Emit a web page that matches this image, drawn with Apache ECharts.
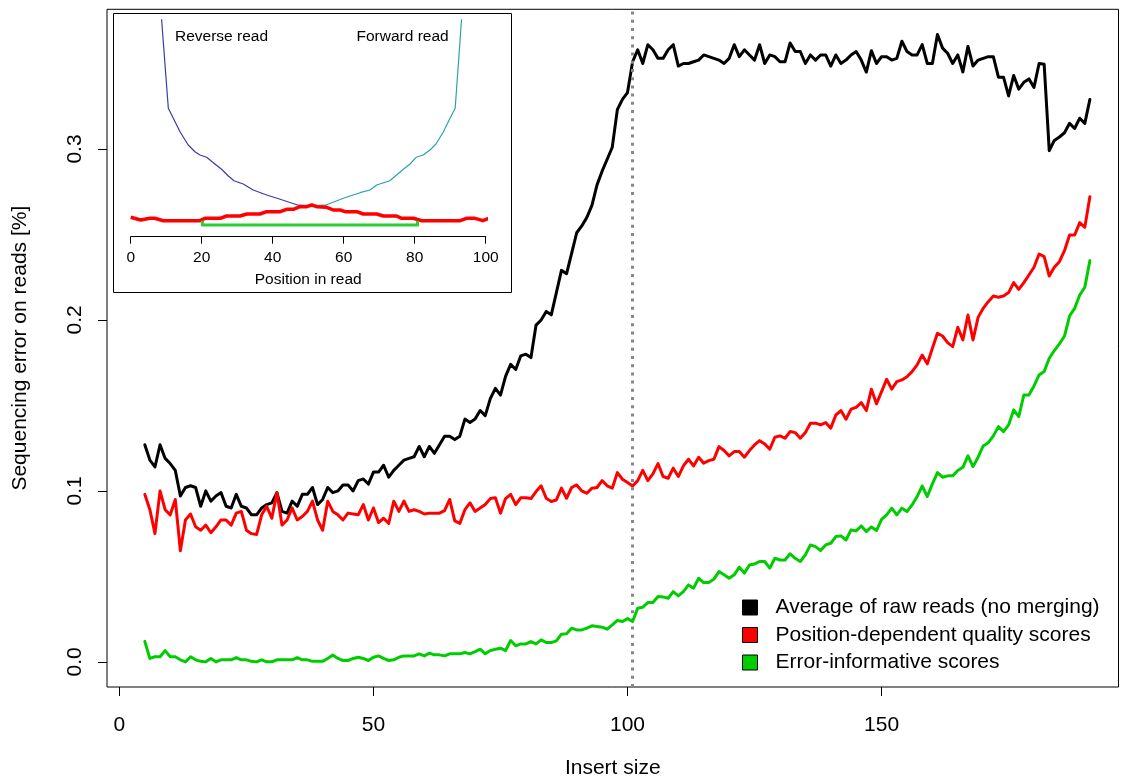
<!DOCTYPE html>
<html>
<head>
<meta charset="utf-8">
<script src="https://cdn.jsdelivr.net/npm/echarts@6/dist/echarts.min.js"></script>
<style>
  html, body { margin: 0; padding: 0; background: #fff; }
  #chart { width: 1121px; height: 778px; }
</style>
</head>
<body>
<div id="chart"></div>
<script>
// ---- Main panel: sequencing error by insert size ----
const insertSizes = [
  5,6,7,8,9,10,11,12,13,14,
  15,16,17,18,19,20,21,22,23,24,
  25,26,27,28,29,30,31,32,33,34,
  35,36,37,38,39,40,41,42,43,44,
  45,46,47,48,49,50,51,52,53,54,
  55,56,57,58,59,60,61,62,63,64,
  65,66,67,68,69,70,71,72,73,74,
  75,76,77,78,79,80,81,82,83,84,
  85,86,87,88,89,90,91,92,93,94,
  95,96,97,98,99,100,101,102,103,104,
  105,106,107,108,109,110,111,112,113,114,
  115,116,117,118,119,120,121,122,123,124,
  125,126,127,128,129,130,131,132,133,134,
  135,136,137,138,139,140,141,142,143,144,
  145,146,147,148,149,150,151,152,153,154,
  155,156,157,158,159,160,161,162,163,164,
  165,166,167,168,169,170,171,172,173,174,
  175,176,177,178,179,180,181,182,183,184,
  185,186,187,188,189,190,191
];

const rawReads = [
  0.127,0.118,0.114,0.127,0.119,0.116,0.112,0.097,0.102,0.103,
  0.102,0.091,0.100,0.094,0.097,0.099,0.091,0.090,0.098,0.091,
  0.090,0.086,0.086,0.090,0.092,0.093,0.099,0.088,0.087,0.094,
  0.091,0.098,0.098,0.102,0.092,0.095,0.102,0.099,0.100,0.1035,
  0.1035,0.100,0.106,0.107,0.104,0.111,0.111,0.115,0.108,0.112,
  0.115,0.118,0.119,0.120,0.126,0.120,0.126,0.122,0.127,0.132,
  0.132,0.130,0.132,0.142,0.140,0.142,0.147,0.144,0.154,0.160,
  0.156,0.167,0.174,0.171,0.179,0.180,0.178,0.197,0.200,0.205,
  0.203,0.216,0.229,0.227,0.239,0.251,0.255,0.260,0.267,0.279,
  0.287,0.294,0.301,0.323,0.329,0.333,0.351,0.358,0.350,0.361,
  0.358,0.353,0.353,0.358,0.361,0.3485,0.350,0.350,0.351,0.352,
  0.355,0.354,0.353,0.352,0.350,0.353,0.361,0.354,0.358,0.355,
  0.352,0.361,0.350,0.355,0.354,0.351,0.351,0.362,0.357,0.357,
  0.350,0.355,0.352,0.355,0.355,0.3485,0.355,0.350,0.352,0.355,
  0.357,0.352,0.345,0.3575,0.350,0.354,0.354,0.352,0.353,0.363,
  0.357,0.355,0.355,0.361,0.350,0.350,0.367,0.359,0.356,0.350,
  0.355,0.345,0.360,0.3485,0.352,0.353,0.354,0.354,0.342,0.342,
  0.331,0.343,0.335,0.339,0.341,0.336,0.350,0.3495,0.299,0.305,
  0.307,0.3095,0.315,0.312,0.318,0.315,0.329
];

const positionQuality = [
  0.098,0.089,0.075,0.100,0.089,0.086,0.095,0.065,0.083,0.0865,
  0.079,0.077,0.080,0.0755,0.079,0.083,0.083,0.080,0.087,0.088,
  0.077,0.075,0.0745,0.086,0.091,0.084,0.099,0.080,0.083,0.090,
  0.083,0.085,0.088,0.094,0.083,0.077,0.094,0.088,0.086,0.083,
  0.087,0.0865,0.086,0.092,0.083,0.090,0.0815,0.084,0.081,0.094,
  0.088,0.094,0.088,0.089,0.088,0.0865,0.087,0.087,0.087,0.0885,
  0.095,0.0825,0.081,0.089,0.093,0.088,0.090,0.092,0.0955,0.096,
  0.087,0.0955,0.098,0.092,0.096,0.096,0.0955,0.0996,0.103,0.0957,
  0.0938,0.0947,0.1016,0.0957,0.102,0.1035,0.100,0.0986,0.1016,0.102,
  0.106,0.103,0.1016,0.1107,0.1068,0.1049,0.1029,0.106,0.112,0.106,
  0.110,0.116,0.1084,0.1074,0.1133,0.1084,0.1146,0.1185,0.1146,0.1197,
  0.1162,0.1177,0.1185,0.1259,0.1236,0.1205,0.123,0.123,0.1197,0.1236,
  0.1269,0.1294,0.1275,0.1244,0.1314,0.1322,0.1308,0.1347,0.1341,0.1308,
  0.1341,0.1396,0.1396,0.1386,0.140,0.1367,0.1444,0.147,0.1419,0.1478,
  0.1489,0.1516,0.147,0.1595,0.1509,0.1581,0.1653,0.1595,0.1639,0.1649,
  0.1668,0.1698,0.1737,0.1795,0.1743,0.1834,0.1922,0.1906,0.1867,0.1844,
  0.1957,0.1883,0.2029,0.1883,0.2015,0.2068,0.2107,0.214,0.2133,0.214,
  0.216,0.2218,0.2179,0.2218,0.2263,0.2308,0.2386,0.237,0.2257,0.2308,
  0.2341,0.2405,0.2497,0.2497,0.2569,0.2542,0.2721
];

const errorInformative = [
  0.012,0.002,0.003,0.003,0.0066,0.003,0.003,0.0012,0.0,0.003,
  0.0012,0.0003,0.0,0.002,0.0,0.0012,0.0012,0.0012,0.0025,0.0012,
  0.0012,0.0003,0.0,0.0012,0.0,0.0,0.0012,0.0012,0.0012,0.0012,
  0.0025,0.0012,0.0012,0.0003,0.0003,0.0003,0.002,0.004,0.002,0.0008,
  0.0008,0.002,0.0027,0.002,0.0008,0.0027,0.0035,0.002,0.0008,0.0012,
  0.0027,0.0035,0.0035,0.0035,0.0047,0.0035,0.0051,0.0041,0.0041,0.0035,
  0.0047,0.0047,0.0047,0.0055,0.0047,0.006,0.0074,0.0047,0.0066,0.0074,
  0.008,0.0066,0.0125,0.0094,0.0105,0.0105,0.0119,0.0105,0.0129,0.0113,
  0.0113,0.0123,0.0162,0.0164,0.0197,0.0187,0.0187,0.0197,0.0211,0.0207,
  0.0203,0.0191,0.0216,0.0242,0.0236,0.0253,0.0236,0.0314,0.032,0.0347,
  0.0347,0.0382,0.038,0.0372,0.0411,0.0386,0.0411,0.045,0.0431,0.0489,
  0.0464,0.0464,0.0484,0.0528,0.0509,0.0489,0.0509,0.0554,0.0519,0.0567,
  0.0573,0.0587,0.0587,0.0548,0.0606,0.0596,0.0596,0.0632,0.0606,0.0587,
  0.0626,0.0684,0.0674,0.0651,0.0684,0.0694,0.0733,0.0737,0.0713,0.0772,
  0.0766,0.0795,0.0762,0.0789,0.0768,0.0834,0.086,0.0899,0.086,0.0899,
  0.0879,0.0918,0.0967,0.1029,0.0967,0.1041,0.1107,0.108,0.1088,0.1088,
  0.1119,0.1138,0.1205,0.1142,0.1197,0.1263,0.1282,0.1322,0.1376,0.1347,
  0.1386,0.1474,0.1435,0.1561,0.1561,0.1614,0.1678,0.1698,0.1776,0.1821,
  0.186,0.1906,0.2023,0.2068,0.2146,0.2191,0.2347
];

const seriesNames = [
  'Average of raw reads (no merging)',
  'Position-dependent quality scores',
  'Error-informative scores'
];
const seriesColors = ['#000000', '#ff0000', '#00cd00'];

const xTicks = [0, 50, 100, 150];
const yTicks = [0, 0.1, 0.2, 0.3];
const readLengthCutoff = 101;   // insert size where the two reads stop overlapping

// ---- Inset: error profile along the read (arbitrary units) ----
const reverseRead = [
  [8.7,217.4],[10.6,128.4],[12.0,118.4],[13.9,105],[16.2,91.7],[18.1,85],
  [19.5,81.7],[21.4,79.4],[23.7,72.7],[25.6,67.4],[27.5,60.7],[29.1,56],
  [31.7,52.7],[34.5,46.7],[38.3,41.7],[42.1,37.4],[47.2,31.5],[51.0,31.2]
];
const forwardRead = [
  [51.0,31.2],[54.8,31.5],[59.9,38.4],[64.6,44],[67.4,46.7],[69.3,51.7],
  [73.0,56],[74.9,61.7],[76.8,67.4],[78.7,72.7],[80.4,79.4],[82.4,81.7],
  [84.3,86.7],[86.0,92.7],[88.1,105],[89.7,116.7],[91.4,128.4],[93.2,217.4]
];
const insetQuality = [
  [0,19.4],[2.8,16.7],[5.4,18.4],[6.8,18.4],[9.2,16],[19.5,16],[20.9,18.4],
  [25.2,18.4],[27.0,20.7],[30.8,20.7],[32.7,22.7],[36.4,22.7],[38.3,25],
  [42.1,25],[43.9,27.4],[45.8,27.4],[47.7,30],[49.6,30],[51.0,31.7],[52.4,30],
  [55.2,29.4],[57.1,26.7],[59.0,26.7],[60.4,25],[63.7,25],[65.5,22.7],
  [69.3,22.7],[71.2,20.7],[74.9,20.7],[76.3,18.4],[79.6,18.4],[82.0,16],
  [92.8,16],[94.6,18.4],[97.0,18.4],[99.2,16],[102.0,20]
];
const overlapRegion = [[20.2,16],[20.2,11.7],[80.8,11.7],[80.8,16]];

const FONT = '"Liberation Sans", Arial, Helvetica, sans-serif';

function pairs(xs, ys) {
  return xs.map((x, i) => [x, ys[i]]);
}

const mainValues = [rawReads, positionQuality, errorInformative];

const mainSeries = mainValues.map((vals, i) => {
  const s = {
    name: seriesNames[i],
    type: 'line',
    xAxisIndex: 0,
    yAxisIndex: 0,
    data: pairs(insertSizes, vals),
    symbol: 'none',
    showSymbol: false,
    z: 3 + i,
    itemStyle: { color: seriesColors[i] },
    lineStyle: { color: seriesColors[i], width: 3, join: 'round', cap: 'round' }
  };
  if (i === 0) {
    s.markLine = {
      silent: true,
      symbol: ['none', 'none'],
      label: { show: false },
      lineStyle: { color: '#888888', width: 3, type: [3, 5.2], cap: 'butt' },
      data: [{ xAxis: readLengthCutoff }]
    };
  }
  return s;
});

const insetLine = (name, data, color, width) => ({
  name: name,
  type: 'line',
  xAxisIndex: 2,
  yAxisIndex: 2,
  data: data,
  symbol: 'none',
  showSymbol: false,
  clip: false,
  z: 6,
  lineStyle: { color: color, width: width, join: 'round' },
  itemStyle: { color: color }
});

const option = {
  animation: false,
  backgroundColor: '#ffffff',
  textStyle: { fontFamily: FONT },
  grid: [
    { left: 107, top: 9.3, width: 1011.5, height: 677.7, show: true,
      outerBoundsMode: 'none',
      borderColor: '#000', borderWidth: 1, backgroundColor: 'transparent' },
    { left: 113.5, top: 13.5, width: 398, height: 279, show: true,
      outerBoundsMode: 'none',
      borderColor: '#000', borderWidth: 1, backgroundColor: '#fff' },
    { left: 130.7, top: 19, width: 355, height: 217.7, outerBoundsMode: 'none' }
  ],
  xAxis: [
    {
      gridIndex: 0, type: 'value', min: -2.44, max: 196.63,
      name: 'Insert size', nameLocation: 'middle', nameGap: 71,
      nameTextStyle: { fontSize: 21, color: '#000', fontFamily: FONT },
      axisLine: { show: false, onZero: false },
      axisTick: { show: true, inside: false, length: 9, customValues: xTicks,
                  lineStyle: { color: '#000', width: 1 } },
      axisLabel: { customValues: xTicks, fontSize: 21, color: '#000', margin: 28,
                   fontFamily: FONT },
      splitLine: { show: false }
    },
    { gridIndex: 1, type: 'value', min: 0, max: 1, show: false },
    {
      gridIndex: 2, type: 'value', min: 0, max: 100, interval: 20,
      name: 'Position in read', nameLocation: 'middle', nameGap: 35,
      nameTextStyle: { fontSize: 15.5, color: '#000', fontFamily: FONT },
      axisLine: { show: true, onZero: false, lineStyle: { color: '#000', width: 1 } },
      axisTick: { show: true, length: 7, lineStyle: { color: '#000', width: 1 } },
      axisLabel: { fontSize: 15.5, color: '#000', margin: 13, fontFamily: FONT },
      splitLine: { show: false }
    }
  ],
  yAxis: [
    {
      gridIndex: 0, type: 'value', min: -0.0147, max: 0.3817,
      name: 'Sequencing error on reads [%]', nameLocation: 'middle', nameGap: 76,
      nameRotate: 90,
      nameTextStyle: { fontSize: 21, color: '#000', fontFamily: FONT },
      axisLine: { show: false, onZero: false },
      axisTick: { show: true, inside: false, length: 9, customValues: yTicks,
                  lineStyle: { color: '#000', width: 1 } },
      axisLabel: { customValues: yTicks, rotate: 90, fontSize: 21, color: '#000',
                   margin: 21, fontFamily: FONT,
                   formatter: v => Number(v).toFixed(1) },
      splitLine: { show: false }
    },
    { gridIndex: 1, type: 'value', min: 0, max: 1, show: false },
    { gridIndex: 2, type: 'value', min: 0, max: 217.7, show: false }
  ],
  legend: {
    orient: 'vertical',
    left: 737, top: 592,
    itemWidth: 15, itemHeight: 15, itemGap: 6.5,
    icon: 'rect',
    selectedMode: false,
    itemStyle: { borderColor: '#000', borderWidth: 1 },
    textStyle: { fontSize: 21, color: '#000', fontFamily: FONT, padding: [0, 0, 0, 13] },
    data: seriesNames
  },
  graphic: [
    { type: 'text', left: 175, top: 29,
      style: { text: 'Reverse read', fill: '#000', font: '15.5px ' + FONT }, z: 10 },
    { type: 'text', left: 356.5, top: 29,
      style: { text: 'Forward read', fill: '#000', font: '15.5px ' + FONT }, z: 10 }
  ],
  series: mainSeries.concat([
    insetLine('Reverse read', reverseRead, '#3b3ba8', 1.2),
    insetLine('Forward read', forwardRead, '#2aa3a3', 1.2),
    insetLine('Inset quality', insetQuality, '#ff0000', 3.5),
    insetLine('Overlap', overlapRegion, '#2ecc2e', 3)
  ])
};

const chart = echarts.init(document.getElementById('chart'), null, { renderer: 'canvas' });
chart.setOption(option);
</script>
</body>
</html>
